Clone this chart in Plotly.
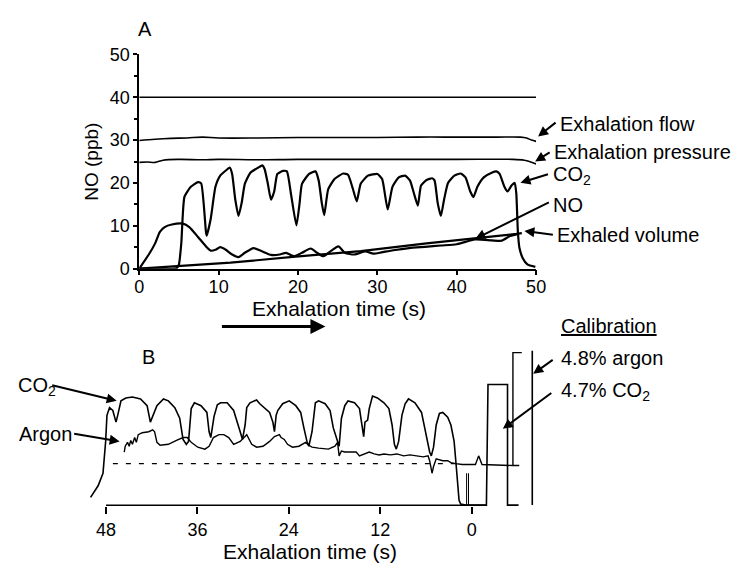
import plotly.graph_objects as go

# ---------------- Panel A data (time s, value) ----------------
ref40_t = [0, 50]
ref40_v = [40, 40]

flow_t = [0, 2, 4, 6, 8, 10, 15, 20, 25, 30, 35, 40, 45, 48, 48.8, 49.4, 50]
flow_v = [29.9, 30.2, 30.4, 30.5, 30.7, 30.5, 30.5, 30.6, 30.6, 30.6, 30.7, 30.7, 30.7, 30.7, 30.5, 30.0, 29.7]

press_t = [0, 1, 2, 3, 5, 8, 10, 15, 20, 30, 40, 47, 48.5, 49.3, 50]
press_v = [24.8, 24.9, 24.8, 25.3, 25.5, 25.4, 25.5, 25.4, 25.5, 25.5, 25.5, 25.5, 25.3, 24.9, 24.4]

co2a_t = [0, 4.7, 5.0, 5.3, 5.7, 6.5, 7.4, 7.8, 8.4, 8.5, 9.0, 9.6, 10.2, 11.1, 11.4, 11.7, 12.1, 12.5,
          12.9, 13.3, 14.0, 15.0, 15.5, 15.8, 16.2, 16.6, 17.0, 17.4, 18.1, 18.6, 19.1, 19.8, 20.2, 20.5,
          21.4, 22.2, 22.6, 23.0, 23.3, 23.8, 24.6, 25.7, 26.3, 26.9, 27.4, 27.9, 28.8, 30.0, 30.6, 31.3,
          31.9, 32.7, 33.5, 34.1, 34.6, 35.1, 35.5, 36.2, 36.9, 37.2, 37.6, 38.0, 38.4, 38.9, 39.7, 40.5,
          41.1, 41.7, 42.1, 42.6, 43.4, 44.4, 45.0, 45.4, 46.0, 46.4, 46.9, 47.3, 47.5, 47.7, 47.9, 48.3,
          48.9, 49.9]
co2a_v = [0, 0.1, 1, 6, 16.8, 19.1, 20.2, 19.9, 8.6, 7.7, 11.6, 19.1, 21.7, 23.2, 23.6, 22.1, 16.1, 12.3,
          15.3, 19.8, 22.4, 23.6, 24.1, 23.2, 19.8, 16.1, 18.0, 22.1, 22.8, 22.7, 17.6, 10.1, 15.3, 19.8,
          22.1, 22.7, 20.6, 15.3, 12.5, 18.5, 20.9, 22.2, 21.9, 18.7, 15.7, 19.8, 21.7, 22.1, 20.9, 13.8,
          19.1, 21.3, 21.7, 20.6, 17.6, 14.7, 19.4, 20.7, 21.1, 20.6, 15.3, 12.3, 16.1, 20.0, 21.7, 22.2,
          21.3, 18.0, 16.7, 19.1, 21.3, 22.4, 22.7, 22.1, 19.1, 18.0, 19.4, 20.0, 17.6, 8.6, 4.8, 2.5,
          1.0, 0.4]

no_t = [0, 1.2, 2.0, 2.6, 3.2, 4.1, 5.5, 6.3, 7.4, 8.4, 9.0, 9.6, 10.2, 10.9, 11.7, 12.5, 13.3, 14.4,
        15.4, 16.6, 17.7, 18.5, 19.5, 20.5, 21.6, 22.4, 23.2, 24.2, 25.1, 25.9, 27.1, 28.5, 29.5, 30.5,
        32, 34, 36, 38, 40, 42.3, 44.4, 45.6, 46.7, 47.5, 47.8]
no_v = [0, 3.3, 5.9, 8.6, 9.7, 10.3, 10.5, 9.7, 7.4, 5.2, 4.2, 4.4, 5.0, 4.4, 3.3, 2.7, 3.7, 4.8,
        4.1, 3.2, 3.3, 3.7, 2.9, 3.7, 4.7, 3.7, 2.9, 4.2, 5.2, 3.7, 3.3, 4.0, 3.5, 3.8,
        4.3, 4.8, 5.1, 5.4, 5.7, 6.8, 6.6, 6.5, 7.6, 8.0, 8.2]

vol_t = [0, 11.5, 19.7, 25.1, 27.9, 36.2, 42.3, 47.5, 48.2]
vol_v = [0, 1.4, 2.8, 3.6, 4.1, 5.9, 7.0, 8.1, 8.3]

a_xticks = [0, 10, 20, 30, 40, 50]
a_yticks = [0, 10, 20, 30, 40, 50]

# ---------------- Panel B data (time s before end, arbitrary units) ----------------
co2b_t = [50.03, 49.04, 48.40, 48.05, 47.88, 47.54, 47.11, 46.69, 46.47, 46.04, 45.40, 44.54, 43.47,
          42.61, 42.18, 41.97, 41.32, 40.46, 39.82, 38.97, 38.33, 37.89, 37.46, 37.17, 36.82, 36.40,
          35.53, 34.76, 34.47, 34.25, 33.82, 33.39, 32.96, 32.10, 31.25, 30.39, 30.09, 29.74, 29.53,
          29.10, 28.24, 27.82, 26.53, 26.10, 25.89, 25.67, 25.46, 24.82, 23.96, 23.09, 22.45, 22.03,
          21.60, 21.38, 20.96, 20.52, 20.10, 19.24, 18.59, 18.17, 17.74, 17.40, 17.10, 16.66, 16.24,
          15.38, 14.73, 14.44, 14.31, 14.18, 14.01, 13.66, 13.45, 13.02, 12.38, 11.52, 10.87, 10.45,
          10.15, 9.90, 9.59, 9.16, 8.74, 8.30, 7.45, 6.59, 6.17, 5.52, 5.30, 5.01, 4.66, 4.24, 3.80,
          3.15, 2.73, 2.31, 2.09, 1.87, 1.66, 1.44, 0.80, -1.93, -2.14, -4.70, -4.70, -6.15]
co2b_v = [8, 20, 33, 66, 93, 101, 98, 86, 93, 108, 111, 112, 110,
          103, 86, 90, 103, 110, 108, 101, 90, 68, 63, 66, 100, 106,
          103, 96, 76, 70, 92, 104, 106, 106, 98, 76, 68, 83, 101,
          106, 109, 105, 96, 86, 76, 93, 98, 105, 108, 103, 96, 80,
          65, 61, 76, 106, 108, 105, 98, 80, 68, 61, 90, 103, 108,
          106, 100, 86, 75, 71, 86, 88, 100, 113, 111, 106, 100, 83,
          63, 58, 66, 93, 105, 110, 106, 96, 80, 55, 51, 60, 83, 95, 96,
          91, 83, 66, 46, 23, 5, 1, 0, 0, 125, 125, 0, 0]

argon_t = [45.61, 45.48, 45.18, 44.96, 44.76, 44.54, 44.24, 44.02, 43.77, 43.25, 42.39, 41.88, 41.62,
           41.32, 40.90, 39.82, 38.75, 37.89, 37.34, 36.82, 35.96, 35.02, 34.47, 33.90, 33.18, 32.54,
           31.89, 31.25, 30.39, 29.53, 28.88, 28.24, 27.39, 26.53, 25.89, 25.24, 25.02, 24.60, 24.18,
           23.53, 22.67, 21.81, 21.38, 20.96, 20.10, 18.81, 17.95, 17.61, 17.40, 17.10, 16.66, 15.81,
           15.17, 14.73, 14.09, 13.45, 12.80, 12.16, 11.52, 10.67, 9.81, 8.94, 8.10, 7.23, 6.37, 5.73,
           5.52, 5.21, 5.01, 4.66, 3.80, 3.15, 2.73, 2.09, 1.23, 0.38, -0.49, -0.91, -1.35, -5.41,
           -6.24, -5.41, -5.41, -6.57]
argon_v = [55, 61, 65, 61, 67, 63, 70, 65, 73, 75, 76, 78, 76,
           65, 62, 63, 67, 70, 70, 65, 60, 58, 61, 70, 73, 73,
           70, 63, 66, 73, 63, 60, 61, 66, 71, 73, 70, 68, 63,
           60, 61, 65, 62, 60, 59, 58, 61, 65, 51, 56, 55, 55,
           55, 51, 53, 55, 53, 52, 53, 52, 53, 51, 52, 51, 50, 51,
           46, 33, 40, 48, 46, 46, 44, 43, 42, 42, 42, 51, 42, 41,
           41, 41, 158, 158]

dash_t = [47.1, 2.1]
dash_v = [43, 43]

b_xticks = [48, 36, 24, 12, 0]
argon_scale_t = -7.95
argon_scale_v = [0, 160]
marker_t = [0.67, 0.42]

# ---------------- figure ----------------
W, H = 748, 573
FONT = "Arial, Liberation Sans, sans-serif"


def px(x):
    return x / W


def py(y):
    return 1 - y / H


fig = go.Figure()
fig.add_trace(go.Scatter(x=ref40_t, y=ref40_v, mode="lines", line=dict(color="black", width=1.3), xaxis="x", yaxis="y"))
fig.add_trace(go.Scatter(x=flow_t, y=flow_v, mode="lines", line=dict(color="black", width=1.6, shape="spline"), xaxis="x", yaxis="y"))
fig.add_trace(go.Scatter(x=press_t, y=press_v, mode="lines", line=dict(color="black", width=1.6, shape="spline"), xaxis="x", yaxis="y"))
fig.add_trace(go.Scatter(x=vol_t, y=vol_v, mode="lines", line=dict(color="black", width=2.2), xaxis="x", yaxis="y"))
fig.add_trace(go.Scatter(x=no_t, y=no_v, mode="lines", line=dict(color="black", width=2.2, shape="spline", smoothing=0.6), xaxis="x", yaxis="y"))
fig.add_trace(go.Scatter(x=co2a_t, y=co2a_v, mode="lines", line=dict(color="black", width=2.2, shape="spline", smoothing=0.5), xaxis="x", yaxis="y"))

fig.add_trace(go.Scatter(x=dash_t, y=dash_v, mode="lines", line=dict(color="black", width=1.2, dash="5px,8px"), xaxis="x2", yaxis="y2"))
fig.add_trace(go.Scatter(x=argon_t, y=argon_v, mode="lines", line=dict(color="black", width=1.4), xaxis="x2", yaxis="y2"))
fig.add_trace(go.Scatter(x=co2b_t, y=co2b_v, mode="lines", line=dict(color="black", width=1.6), xaxis="x2", yaxis="y2"))
fig.add_trace(go.Scatter(x=[argon_scale_t, argon_scale_t], y=argon_scale_v, mode="lines", line=dict(color="black", width=1.6), xaxis="x2", yaxis="y2"))

shapes = [
    dict(type="line", xref="x2", yref="y2", x0=b_xticks[0], x1=-2.0, y0=-0.3, y1=-0.3, line=dict(color="black", width=2)),
]
for mt in marker_t:
    shapes.append(dict(type="line", xref="x2", yref="y2", x0=mt, x1=mt, y0=-1, y1=33, line=dict(color="black", width=1)))

annotations = []


def text(t, x, y, size=20, xanchor="left", angle=0, font_extra=None):
    f = dict(family=FONT, size=size, color="black")
    if font_extra:
        f.update(font_extra)
    annotations.append(dict(text=t, x=px(x), y=py(y), xref="paper", yref="paper", showarrow=False,
                            xanchor=xanchor, yanchor="middle", textangle=angle, font=f))


def arrow(hx, hy, tx, ty, w=2.0):
    annotations.append(dict(text="", x=px(hx), y=py(hy), xref="paper", yref="paper", showarrow=True,
                            ax=tx - hx, ay=ty - hy, arrowhead=2, arrowsize=1.0, arrowwidth=w,
                            arrowcolor="black"))


# Panel A labels
text("A", 143, 20, 20, "center")
text("NO (ppb)", 88, 157, 19, "center", -90)
text("Exhalation time (s)", 341, 309, 21, "center")
text("Exhalation flow", 564, 118)
text("Exhalation pressure", 558, 147)
text("CO<sub>2</sub>", 557, 172)
text("NO", 557, 202)
text("Exhaled volume", 561, 233)
arrow(544, 131, 563, 116)
arrow(541, 157, 557, 147)
arrow(526, 179, 555, 170)
arrow(480, 237, 555, 200)
arrow(530, 229, 560, 233)
arrow(327, 328, 222, 328, 3)

# Panel B labels
text("B", 146, 360, 20, "center")
text("CO<sub>2</sub>", 11, 390)
text("Argon", 12, 439)
text("Calibration", 565, 327, 20, "left", 0, dict(lineposition="under"))
text("4.8% argon", 565, 361)
text("4.7% CO<sub>2</sub>", 565, 395)
text("Exhalation time (s)", 311, 561, 21, "center")
arrow(114, 405, 48, 389)
arrow(117, 447, 70, 439)
arrow(539, 377, 560, 362)
arrow(508, 434, 558, 397)

fig.update_layout(
    width=W, height=H, margin=dict(l=0, r=0, t=0, b=0),
    paper_bgcolor="white", plot_bgcolor="white", showlegend=False,
    font=dict(family=FONT, size=18, color="black"),
    xaxis=dict(domain=[px(137), px(542)], range=[0, 50], tickvals=a_xticks, showline=True,
               linecolor="black", linewidth=1.6, ticks="outside", ticklen=5, tickwidth=1.5,
               tickcolor="black", showgrid=False, zeroline=False, anchor="y",
               ticklabelstandoff=-4, tickfont=dict(size=18)),
    yaxis=dict(domain=[py(268), py(46)], range=[0, 50], tickvals=a_yticks, showline=True,
               linecolor="black", linewidth=1.6, ticks="outside", ticklen=4, tickwidth=1.5,
               tickcolor="black", showgrid=False, zeroline=False, anchor="x",
               minor=dict(dtick=5, ticks="outside", ticklen=3, tickcolor="black"),
               tickfont=dict(size=18)),
    xaxis2=dict(domain=[px(72), px(554)], range=[52, -10], tickvals=b_xticks, showline=False,
                ticks="outside", ticklen=7, tickwidth=1.5, tickcolor="black", showgrid=False,
                zeroline=False, anchor="y2", tickfont=dict(size=18)),
    yaxis2=dict(domain=[py(514), py(334)], range=[-1, 179], visible=False, showgrid=False,
                zeroline=False, anchor="x2"),
    shapes=shapes, annotations=annotations,
)

fig.write_html("out.html")
